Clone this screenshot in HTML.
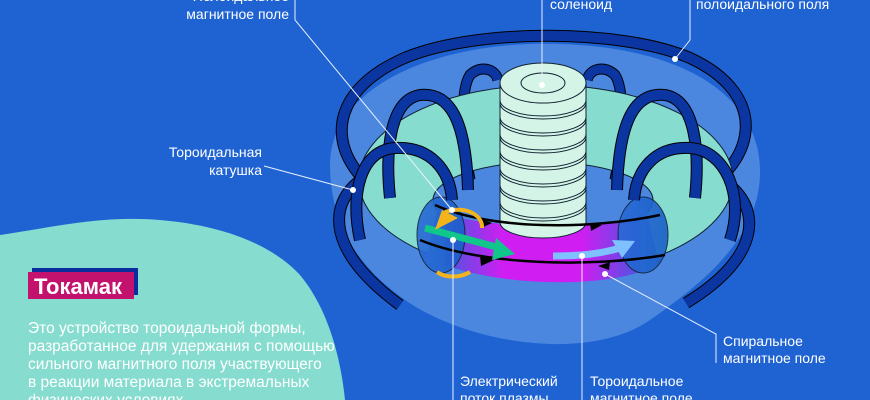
<!DOCTYPE html>
<html><head><meta charset="utf-8"><style>
html,body{margin:0;padding:0;background:#1f63d3;}
svg{display:block}
text{font-family:"Liberation Sans",sans-serif;fill:#fff;}
</style></head><body>
<svg width="870" height="400" viewBox="0 0 870 400" xmlns="http://www.w3.org/2000/svg">
<defs>
<linearGradient id="pl" x1="0" x2="1" y1="0" y2="0">
<stop offset="0" stop-color="#4a55e0"/><stop offset="0.3" stop-color="#d01ef2"/><stop offset="0.7" stop-color="#d01ef2"/><stop offset="1" stop-color="#4a55e0"/>
</linearGradient>
<linearGradient id="cut" x1="0" x2="1"><stop offset="0" stop-color="#2a6ad8"/><stop offset="1" stop-color="#1a5fc8"/></linearGradient>
</defs>
<rect width="870" height="400" fill="#1f63d3"/>
<path d="M0,235 C50,228 100,215 160,220 C230,226 275,248 300,275 C325,305 340,350 345,400 L0,400 Z" fill="#86dccf"/>
<path d="M330,165 C330,85 440,40 560,44 C690,48 762,100 760,175 C758,240 700,285 650,320 C590,362 470,345 405,300 C355,265 330,220 330,165 Z" fill="#4b86df"/>
<g fill="none">
<path d="M358,182 C330,205 325,250 400,305" stroke="#000" stroke-width="12"/>
<path d="M358,182 C330,205 325,250 400,305" stroke="#0b36a2" stroke-width="10"/>
<path d="M725,182 C760,205 765,255 686,303" stroke="#000" stroke-width="12"/>
<path d="M725,182 C760,205 765,255 686,303" stroke="#0b36a2" stroke-width="10"/>
<path d="M400,206 C330,170 315,100 400,60 C470,28 620,28 690,58 C770,95 760,165 685,202" stroke="#000" stroke-width="12"/>
<path d="M400,206 C330,170 315,100 400,60 C470,28 620,28 690,58 C770,95 760,165 685,202" stroke="#0b36a2" stroke-width="10"/>
<path d="M470,180 C462,140 460,90 470,75 C480,65 495,68 498,80" stroke="#000" stroke-width="11"/>
<path d="M470,180 C462,140 460,90 470,75 C480,65 495,68 498,80" stroke="#0b36a2" stroke-width="9"/>
<path d="M615,180 C623,140 625,90 615,75 C605,65 590,68 587,80" stroke="#000" stroke-width="11"/>
<path d="M615,180 C623,140 625,90 615,75 C605,65 590,68 587,80" stroke="#0b36a2" stroke-width="9"/>
</g>
<path fill-rule="evenodd" d="M359,180 A187,95 0 1 1 733,180 A187,95 0 1 1 359,180 Z M433,200 A110,38 0 1 0 653,200 A110,38 0 1 0 433,200 Z" fill="#86dccf" stroke="#123" stroke-width="1"/>
<path d="M440,197 C480,222 610,222 643,197 L668,300 L417,300 Z" fill="#4b86df"/>
<path d="M445,215 C500,228 590,232 640,216 L640,272 C590,288 500,285 445,265 Z" fill="url(#pl)"/>
<ellipse cx="441" cy="235" rx="24" ry="38" fill="url(#cut)" stroke="#123" stroke-width="1" opacity="0.9"/>
<ellipse cx="643" cy="235" rx="25" ry="38" fill="url(#cut)" stroke="#123" stroke-width="1" opacity="0.9"/>
<g fill="none">
<path d="M390,198 C385,150 390,100 420,95 C450,92 466,120 468,190" stroke="#000" stroke-width="12"/>
<path d="M390,198 C385,150 390,100 420,95 C450,92 466,120 468,190" stroke="#0b36a2" stroke-width="10"/>
<path d="M695,198 C700,150 695,100 665,95 C635,92 619,120 617,190" stroke="#000" stroke-width="12"/>
<path d="M695,198 C700,150 695,100 665,95 C635,92 619,120 617,190" stroke="#0b36a2" stroke-width="10"/>
<path d="M360,240 C350,195 360,150 395,148 C430,146 450,170 452,200" stroke="#000" stroke-width="12"/>
<path d="M360,240 C350,195 360,150 395,148 C430,146 450,170 452,200" stroke="#0b36a2" stroke-width="10"/>
<path d="M730,240 C745,195 725,150 690,148 C655,146 636,170 634,200" stroke="#000" stroke-width="12"/>
<path d="M730,240 C745,195 725,150 690,148 C655,146 636,170 634,200" stroke="#0b36a2" stroke-width="10"/>
</g>
<path d="M500,83 L500,222 A43,16 0 0 0 586,222 L586,83 Z" fill="#d3f4e6" stroke="#123" stroke-width="1"/>
<ellipse cx="543" cy="83" rx="43" ry="20" fill="#d3f4e6" stroke="#123" stroke-width="1"/>
<ellipse cx="543" cy="83" rx="22" ry="10" fill="none" stroke="#123" stroke-width="1"/>
<g fill="none" stroke="#123" stroke-width="1">
<path d="M500,100 A43,16 0 0 0 586,100"/><path d="M500,103 A43,16 0 0 0 586,103"/>
<path d="M500,117 A43,16 0 0 0 586,117"/><path d="M500,120 A43,16 0 0 0 586,120"/>
<path d="M500,134 A43,16 0 0 0 586,134"/><path d="M500,137 A43,16 0 0 0 586,137"/>
<path d="M500,151 A43,16 0 0 0 586,151"/><path d="M500,154 A43,16 0 0 0 586,154"/>
<path d="M500,168 A43,16 0 0 0 586,168"/><path d="M500,171 A43,16 0 0 0 586,171"/>
<path d="M500,185 A43,16 0 0 0 586,185"/><path d="M500,188 A43,16 0 0 0 586,188"/>
<path d="M500,202 A43,16 0 0 0 586,202"/><path d="M500,205 A43,16 0 0 0 586,205"/>
</g>
<g fill="none" stroke="#000" stroke-width="2.5">
<path d="M435,205 C490,230 590,230 660,215"/>
<path d="M420,240 C480,265 590,268 665,255"/>
</g>
<g fill="#000">
<polygon points="480,218 492,223 481,228"/><polygon points="590,223 602,225 591,231"/>
<polygon points="480,255 494,260 481,266"/><polygon points="610,262 598,266 609,270"/>
</g>
<path d="M425,228 L500,248" stroke="#10c68a" stroke-width="7"/>
<polygon points="496,238 515,254 492,260" fill="#10c68a"/>
<path d="M553,256 C580,256 600,254 620,248" stroke="#7fc0ff" stroke-width="7" fill="none"/>
<polygon points="612,240 635,241 622,258" fill="#7fc0ff"/>
<path d="M445,212 C465,205 483,215 482,228" stroke="#f2b41a" stroke-width="4" fill="none"/>
<path d="M437,272 C445,278 460,278 470,272" stroke="#f2b41a" stroke-width="4" fill="none"/>
<polygon points="435,230 442,210 458,218" fill="#f2b41a"/>
<g stroke="#e8f0ff" stroke-width="1" fill="none">
<polyline points="295,0 295,20 452,210"/>
<line x1="542" y1="0" x2="542" y2="85"/>
<polyline points="690,0 690,40 675,59"/>
<polyline points="264,166 353,190"/>
<line x1="453" y1="240" x2="453" y2="400"/>
<line x1="582" y1="256" x2="582" y2="400"/>
<polyline points="605,274 716,334 716,363"/>
</g>
<g fill="#fff"><circle cx="452" cy="210" r="3"/><circle cx="542" cy="85" r="3"/><circle cx="675" cy="59" r="3"/><circle cx="353" cy="190" r="3"/><circle cx="453" cy="240" r="3"/><circle cx="582" cy="256" r="3"/><circle cx="605" cy="274" r="3"/></g>
<g font-size="14">
<text x="289" y="1" text-anchor="end">Полоидальное</text>
<text x="289" y="19" text-anchor="end">магнитное поле</text>
<text x="550" y="9">соленоид</text>
<text x="696" y="9">полоидального поля</text>
<text x="262" y="157" text-anchor="end">Тороидальная</text>
<text x="262" y="175" text-anchor="end">катушка</text>
<text x="723" y="346">Спиральное</text>
<text x="723" y="363">магнитное поле</text>
<text x="460" y="386">Электрический</text>
<text x="460" y="403">поток плазмы</text>
<text x="590" y="386">Тороидальное</text>
<text x="590" y="403">магнитное поле</text>
</g>
<rect x="32" y="268" width="106" height="27" fill="#0b2e9c"/>
<rect x="28" y="272" width="106" height="27" fill="#c3126e"/>
<text x="34" y="294" font-size="22" font-weight="bold">Токамак</text>
<g font-size="15.5">
<text x="28" y="333">Это устройство тороидальной формы,</text>
<text x="28" y="351">разработанное для удержания с помощью</text>
<text x="28" y="369">сильного магнитного поля участвующего</text>
<text x="28" y="387">в реакции материала в экстремальных</text>
<text x="28" y="405">физических условиях</text>
</g>
</svg>
</body></html>
